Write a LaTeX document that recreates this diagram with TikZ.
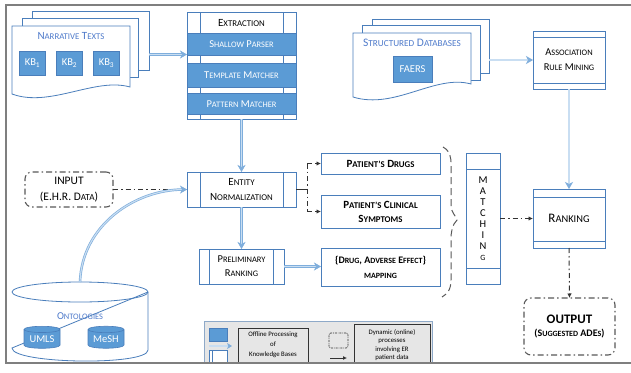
\documentclass[tikz,border=0pt]{standalone}
\usepackage{fontspec}
\setmainfont{Carlito}
\usetikzlibrary{arrows.meta,shapes.geometric}
\makeatletter
\newcommand\smc[1]{{\fontsize{\the\dimexpr 0.8\dimexpr\f@size pt\relax\relax}{\f@baselineskip}\selectfont #1}}
\makeatother
\definecolor{bline}{HTML}{4A7EBB}
\definecolor{fillblue}{HTML}{5B9BD5}
\definecolor{tblue}{HTML}{4F7BCB}
\definecolor{arrowblue}{HTML}{7FAEDC}
\definecolor{arrowlight}{HTML}{C9DEF2}
\definecolor{ddgray}{HTML}{333333}
\definecolor{rgray}{HTML}{595959}
\definecolor{framegray}{HTML}{7F7F7F}
\definecolor{leggray}{HTML}{E6E6E6}
\definecolor{legline}{HTML}{8EA9C8}
\tikzset{
  every node/.style={inner sep=0pt, outer sep=0pt},
  pbox/.style={draw=bline, line width=0.8pt, fill=white},
  doc/.style={draw=bline, line width=0.8pt, fill=white},
  kb/.style={draw=bline, line width=0.6pt, fill=fillblue, text=white, font=\fontsize{10.5}{12}\selectfont},
  off/.style={draw=arrowblue, double=arrowlight, double distance=1.1pt, line width=0.7pt, -{Stealth[length=7pt,width=8pt,inset=2pt]}},
  dd/.style={draw=ddgray, line width=1pt, dash pattern=on 5pt off 3pt on 1.5pt off 3pt},
  ddarr/.style={dd, -{Latex[length=4.5pt,width=4.5pt]}},
  rbox/.style={draw=rgray, line width=1.1pt, dash pattern=on 6pt off 3pt on 1.5pt off 3pt, rounded corners=7pt},
  bartext/.style={text=white, font=\fontsize{10.5}{11}\selectfont},
}
\begin{document}
\begin{tikzpicture}[x=1pt,y=-1pt]
\useasboundingbox (0,0) rectangle (631,372);
\fill[white] (0,0) rectangle (631,372);

% ---------- Narrative texts stack ----------
\node[doc, minimum width=117pt, minimum height=59pt] (nt3) at (90.5,40.5) {};
\node[doc, minimum width=116pt, minimum height=59pt] (nt2) at (80,47.5) {};
\draw[doc] (12,94) -- (12,26) -- (130,26) -- (130,87) .. controls (95,77) and (50,108) .. cycle;
\node[text=tblue, font=\fontsize{11}{12}\selectfont] (ntt) at (71,36) {N\smc{ARRATIVE} T\smc{EXTS}};
\node[kb, minimum width=26pt, minimum height=24pt] (kb1) at (32.5,63) {KB\textsubscript{1}};
\node[kb, minimum width=26pt, minimum height=24pt] (kb2) at (69.5,63) {KB\textsubscript{2}};
\node[kb, minimum width=26pt, minimum height=24pt] (kb3) at (106.5,63) {KB\textsubscript{3}};

% ---------- Extraction ----------
\node[pbox, minimum width=109pt, minimum height=107pt] (ext) at (241.5,65.5) {};
\draw[bline, line width=0.8pt] (200,12) -- (200,119) (283,12) -- (283,119);
\draw[bline, line width=0.8pt, fill=fillblue] (187,33) rectangle (296,55);
\draw[bline, line width=0.8pt, fill=fillblue] (187,63) rectangle (296,87);
\draw[bline, line width=0.8pt, fill=fillblue] (187,93) rectangle (296,114);
\node[font=\fontsize{11}{11}\selectfont] (extt) at (241.5,23) {E\smc{XTRACTION}};
\node[bartext] (sp) at (241.5,44) {S\smc{HALLOW} P\smc{ARSER}};
\node[bartext] (tm) at (241.5,75) {T\smc{EMPLATE} M\smc{ATCHER}};
\node[bartext] (pm) at (241.5,104) {P\smc{ATTERN} M\smc{ATCHER}};

\coordinate (a1) at (149,54.5);
\draw[off] (a1) -- (a1 -| ext.west);

% ---------- Structured databases stack ----------
\node[doc, minimum width=117pt, minimum height=54pt] (sd3) at (430.5,46) {};
\node[doc, minimum width=118pt, minimum height=55pt] (sd2) at (421,52.5) {};
\draw[doc] (353,97) -- (353,33) -- (471,33) -- (471,84) .. controls (435,74) and (395,110) .. cycle;
\node[text=tblue, font=\fontsize{11.5}{12}\selectfont] (sdt) at (412,43) {S\smc{TRUCTURED} D\smc{ATABASES}};
\node[kb, minimum width=39pt, minimum height=26pt] (faers) at (412.5,69) {FAERS};

% ---------- Association rule mining ----------
\node[pbox, minimum width=72pt, minimum height=58pt, align=center, font=\fontsize{10.5}{15}\selectfont] (arm) at (569,60) {A\smc{SSOCIATION}\\R\smc{ULE} M\smc{INING}};
\draw[bline, line width=0.8pt] (533,37) -- (605,37) (533,83) -- (605,83);
\coordinate (a2) at (489,60);
\draw[off] (a2) -- (arm.west);

% ---------- Ranking ----------
\node[pbox, minimum width=72pt, minimum height=59pt, font=\fontsize{13}{15}\selectfont] (rank) at (569,218.5) {R\smc{ANKING}};
\draw[bline, line width=0.8pt] (533,197) -- (605,197) (533,241) -- (605,241);
\draw[off] (arm.south) -- (rank.north);

% ---------- Matching ----------
\node[pbox, minimum width=34pt, minimum height=131pt] (match) at (483,218.5) {};
\draw[bline, line width=0.8pt] (466,169) -- (500,169) (466,268) -- (500,268);
\node[align=center, font=\fontsize{10.5}{11}\selectfont] (matcht) at (483,219) {M\\A\\T\\C\\H\\I\\N\\{\fontsize{8}{11}\selectfont G}};
\draw[ddarr] (match.east) -- (rank.west);

% ---------- Output ----------
\node[rbox, minimum width=91pt, minimum height=57pt, align=center] (out) at (569.5,326.5) {{\bfseries\fontsize{13}{18}\selectfont OUTPUT}\\[1pt]{\bfseries\fontsize{10}{12}\selectfont (S\smc{UGGESTED} ADE\smc{S})}};
\draw[ddarr] (rank.south) -- (out.north);

% ---------- Input ----------
\node[rbox, minimum width=88pt, minimum height=35pt, align=center, font=\fontsize{11.5}{16}\selectfont] (inp) at (69,189.5) {INPUT\\(E.H.R. D\smc{ATA})};

% ---------- Entity normalization ----------
\node[pbox, minimum width=109pt, minimum height=35pt, align=center, font=\fontsize{11}{15}\selectfont] (en) at (241.5,189.5) {E\smc{NTITY}\\N\smc{ORMALIZATION}};
\draw[bline, line width=0.8pt] (200,172) -- (200,207) (283,172) -- (283,207);
\draw[off] (ext.south) -- (en.north);
\draw[ddarr] (inp.east) -- (en.west);

% ---------- Preliminary ranking ----------
\node[pbox, minimum width=85pt, minimum height=35pt, align=center, font=\fontsize{10.5}{14}\selectfont] (pr) at (241.5,266.5) {P\smc{RELIMINARY}\\R\smc{ANKING}};
\draw[bline, line width=0.8pt] (209,249) -- (209,284) (273,249) -- (273,284);
\draw[off] (en.south) -- (pr.north);

% ---------- Patient boxes ----------
\node[pbox, minimum width=119pt, minimum height=21pt, font=\bfseries\fontsize{11}{14}\selectfont] (drugs) at (380.5,163.5) {P\smc{ATIENT’S} D\smc{RUGS}};
\node[pbox, minimum width=119pt, minimum height=33pt, align=center, font=\bfseries\fontsize{11}{14}\selectfont] (sym) at (380.5,211.5) {P\smc{ATIENT’S} C\smc{LINICAL}\\S\smc{YMPTOMS}};
\node[pbox, minimum width=119pt, minimum height=38pt, align=center, font=\bfseries\fontsize{10}{15}\selectfont] (map) at (380.5,267) {\{D\smc{RUG}, A\smc{DVERSE} E\smc{FFECT}\}\\\smc{MAPPING}};
\draw[off] (pr.east) -- (pr.east -| map.west);

\draw[ddgray, line width=1.5pt] (en.east) -- ++(11,0) coordinate (br);
\draw[dd] (br |- drugs.west) -- (br |- sym.west);
\draw[ddarr] (br |- drugs.west) -- (drugs.west);
\draw[ddarr] (br |- sym.west) -- (sym.west);

% ---------- Brace ----------
\draw[rgray, line width=1pt, dash pattern=on 7pt off 4pt] (443,147) .. controls (453,152) and (451,165) .. (451,175) -- (451,206) .. controls (451,212) and (456,216) .. (457,220) .. controls (452,225) and (451,232) .. (451,240) -- (451,280) .. controls (451,290) and (447,294) .. (442,297);

% ---------- Ontologies ----------
\draw[bline, line width=0.8pt] (80,292) ellipse [x radius=68pt, y radius=10pt];
\draw[bline, line width=0.8pt] (148,292) -- (148,350) .. controls (148,366) and (12,364) .. (12,348) -- (148,292);
\node[text=tblue, font=\fontsize{10.5}{12}\selectfont] (ontt) at (80,316) {O\smc{NTOLOGIES}};
\node[cylinder, shape border rotate=90, aspect=0.25, draw=bline, line width=0.6pt, fill=fillblue, minimum width=36pt, minimum height=22pt, text=white, font=\fontsize{10.5}{12}\selectfont] (umls) at (42,339) {UMLS};
\node[cylinder, shape border rotate=90, aspect=0.25, draw=bline, line width=0.6pt, fill=fillblue, minimum width=36pt, minimum height=22pt, text=white, font=\fontsize{10.5}{12}\selectfont] (mesh) at (106,339) {MeSH};
\coordinate (ontotop) at (80,282);
\draw[off] (ontotop) .. controls (82,225) and (135,190) .. (en.west);

% ---------- Legend ----------
\draw[legline, line width=1pt, fill=leggray] (204,321) rectangle (432,366);
\node[draw=bline, line width=0.6pt, fill=fillblue, minimum width=18pt, minimum height=13pt] (lgb) at (218,334.5) {};
\coordinate (la) at (209,346);
\draw[off, -{Stealth[length=5pt,width=6pt,inset=1.5pt]}] (la) -- ++(23,0);
\node[draw=bline, line width=0.6pt, fill=white, minimum width=18pt, minimum height=16pt] (lgw) at (218,358) {};
\draw[bline, line width=0.6pt] (212,350) -- (212,366);
\node[draw=ddgray, line width=1pt, minimum width=70pt, minimum height=34pt, align=center, font=\fontsize{6.8}{10}\selectfont] (lgoff) at (273,345) {Offline Processing\\of\\Knowledge Bases};
\node[draw=ddgray, line width=0.8pt, dash pattern=on 2pt off 1pt on 0.6pt off 1pt, rounded corners=2pt, minimum width=19pt, minimum height=15pt] (lgd) at (338.5,340.5) {};
\coordinate (lda) at (330,358);
\draw[ddgray, line width=1pt, -{Latex[length=4pt,width=4pt]}] (lda) -- ++(17,0);
\node[draw=ddgray, line width=1pt, minimum width=76pt, minimum height=42pt, align=center, font=\fontsize{6.8}{8.5}\selectfont] (lgdyn) at (392,345) {Dynamic (online)\\processes\\involving ER\\patient data};

% ---------- Frame ----------
\draw[framegray, line width=1.3pt] (631,5) -- (6,5) -- (6,363) -- (631,363);
\fill[white] (0,364) rectangle (631,372);
\end{tikzpicture}
\end{document}
